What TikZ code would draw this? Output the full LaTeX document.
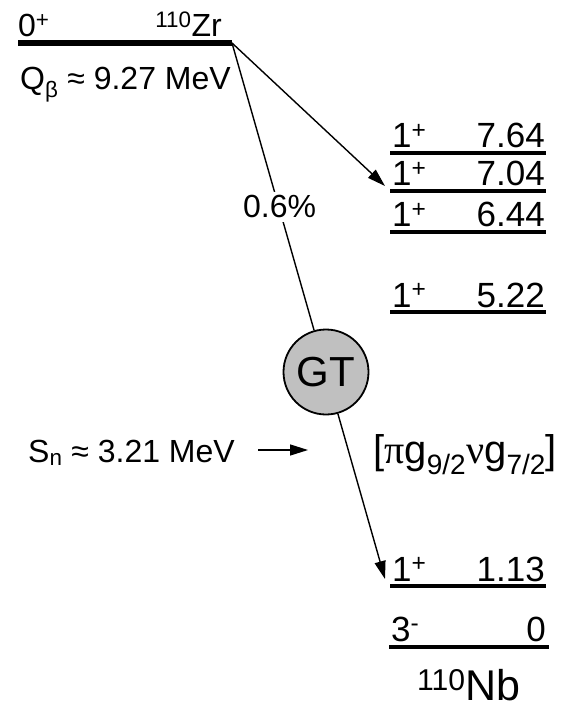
\documentclass[tikz,border=0pt]{standalone}
\usepackage{fontspec}
\setmainfont{Liberation Sans}
\newfontfamily\grkfont{Liberation Serif}
\usetikzlibrary{arrows.meta,positioning}
\definecolor{gtgray}{HTML}{C0C0C0}

\begin{document}
\begin{tikzpicture}[x=1pt,y=-1pt,
 lvl/.style={line width=4pt},
 txt/.style={inner sep=0pt,font=\fontsize{32}{38}\selectfont},
 lab/.style={inner sep=0pt,font=\fontsize{35}{40}\selectfont},
 decay/.style={line width=1.4pt},
 tip/.style={-{Triangle[length=18pt,width=11pt]}}]
\useasboundingbox (0,0) rectangle (581,708);
% parent 110Zr
\draw[line width=5.5pt] (18,43) -- (232,43) coordinate (zr);
\node[txt,anchor=base west] (zrspin) at (18,37) {0\textsuperscript{+}};
\node[txt,anchor=base east] (zrname) at (222,37) {\textsuperscript{110}Zr};
\node[txt,anchor=base west] (qbeta) at (20,90) {Q\textsubscript{β} ≈ 9.27 MeV};
% daughter levels in 110Nb
\foreach \nm/\yy/\en in {l764/153/7.64,l704/191/7.04,l644/232/6.44,l522/312/5.22,l113/586/1.13} {
 \draw[lvl] (390,\yy) coordinate (\nm) -- (546,\yy);
 \node[lab,anchor=base west] (\nm-s) at (392,\yy-5) {1\textsuperscript{+}};
 \node[lab,anchor=base east] (\nm-e) at (545,\yy-5) {\en};
}
\draw[lvl] (389,647) coordinate (l0) -- (549,647);
\node[lab,anchor=base west] (l0-s) at (391,641) {3\textsuperscript{-}};
\node[lab,anchor=base east] (l0-e) at (546,641) {0};
\node[inner sep=0pt,font=\fontsize{43}{50}\selectfont,anchor=base west] (nb) at (417,700) {\textsuperscript{110}Nb};
% GT transition
\node[circle,draw,fill=gtgray,line width=1.8pt,minimum size=85pt,inner sep=0pt,
 font=\fontsize{42}{48}\selectfont] (gt) at (326,372) {GT};
\coordinate (in704) at (385,186);
\coordinate (in113) at (385,579);
\draw[decay,tip] (zr) -- (in704);
\draw[decay] (zr) -- (gt);
\draw[decay,tip] (gt) -- (in113);
\node[txt,anchor=base west,fill=white,inner sep=4pt] (br) at (239,218) {0.6\%};
\node[inner sep=0pt,font=\fontsize{40}{46}\selectfont,anchor=base west] (conf) at (373,463)
 {[{\grkfont π}g\textsubscript{9/2}{\grkfont ν}g\textsubscript{7/2}]};
% neutron separation
\node[txt,anchor=base west] (sn) at (28,462) {S\textsubscript{n} ≈ 3.21 MeV};
\coordinate (snl) at (258,450);
\coordinate (snr) at (308,450);
\draw[decay,tip] (snl) -- (snr);
\end{tikzpicture}
\end{document}
